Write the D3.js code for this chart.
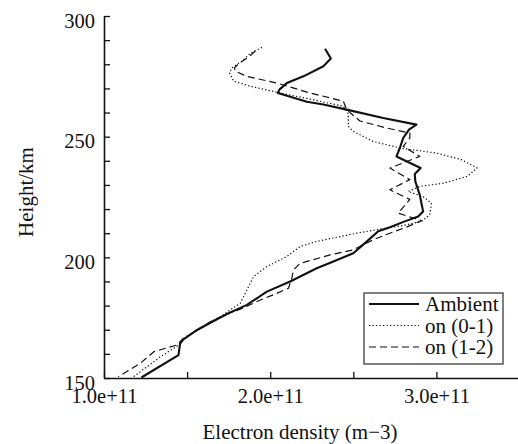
<!DOCTYPE html>
<html>
<head>
<meta charset="utf-8">
<script src="https://cdn.jsdelivr.net/npm/d3@7"></script>
<style>
  body { margin: 0; background: #fff; }
  text { font-family: "Liberation Serif", "Times New Roman", serif; fill: #111; }
</style>
</head>
<body>
<svg id="chart" width="518" height="444"></svg>
<script>
// height (km), electron density (units of 1e11 m^-3)
const ambient = [
  [286.4, 2.33], [282.4, 2.365], [279.2, 2.32], [275, 2.20], [272.2, 2.10],
  [269.5, 2.055], [268.1, 2.046], [264.5, 2.22], [263.3, 2.32], [261.2, 2.46],
  [257.7, 2.68], [255.0, 2.88], [252.9, 2.835], [249.4, 2.80], [245.3, 2.78],
  [241.8, 2.76], [237, 2.905], [234.5, 2.87], [231.5, 2.873], [225.9, 2.90],
  [219, 2.92], [216.9, 2.89], [214.9, 2.81], [212.5, 2.72], [210.8, 2.65],
  [205.9, 2.57], [201.7, 2.50], [198.3, 2.38], [195.5, 2.28], [190, 2.12],
  [185.8, 1.98], [180.3, 1.86], [176.5, 1.74], [172.9, 1.64], [169.9, 1.56],
  [166, 1.478], [164.3, 1.458], [159.5, 1.448], [150.2, 1.225]
];
const on01 = [
  [287, 1.95], [284.5, 1.88], [281.3, 1.83], [278.5, 1.77], [276.4, 1.755],
  [273, 1.78], [270.9, 1.88], [268.4, 2.04], [265.4, 2.25], [262.6, 2.44],
  [259.5, 2.47], [254.3, 2.47], [252.2, 2.50], [248, 2.62], [245.3, 2.78],
  [243.2, 3.00], [240.5, 3.15], [237, 3.245], [233.5, 3.185], [230.7, 3.04],
  [229.4, 2.90], [227.3, 2.83], [225.2, 2.92], [222.4, 2.97], [217.6, 2.96],
  [214.9, 2.91], [213.2, 2.80], [211.2, 2.62], [210, 2.52], [206.6, 2.28],
  [204.5, 2.18], [200.3, 2.10], [196.2, 1.98], [192, 1.90], [186.5, 1.86],
  [181, 1.82], [175.4, 1.70], [173.3, 1.64], [170, 1.57], [167, 1.49],
  [163.7, 1.45], [158.8, 1.34], [150.5, 1.177]
];
const on12 = [
  [285.5, 1.91], [283, 1.87], [280.5, 1.815], [278.5, 1.785], [277.1, 1.79],
  [275, 1.86], [272.2, 2.04], [268.1, 2.24], [264.7, 2.44], [261.2, 2.46],
  [256.5, 2.54], [253.6, 2.70], [251.5, 2.84], [249.4, 2.84], [246, 2.80],
  [241.8, 2.90], [237, 2.72], [232.2, 2.84], [228, 2.72], [224, 2.84],
  [218.3, 2.77], [215.2, 2.91], [212.5, 2.82], [210, 2.72], [207.3, 2.62],
  [203.1, 2.50], [201, 2.36], [197.5, 2.18], [194.8, 2.14], [191.3, 2.13],
  [187.2, 2.11], [184.5, 2.02], [181.7, 1.92], [179, 1.84], [176.5, 1.74],
  [173.3, 1.64], [169.9, 1.56], [166, 1.47], [163.7, 1.44], [160.9, 1.30],
  [156, 1.217], [150.5, 1.086]
];

const seriesNames = ["Ambient", "on (0-1)", "on (1-2)"];
const xTicks = [1.0, 1.5, 2.0, 2.5, 3.0];
const xLabelTicks = [1.0, 2.0, 3.0];
const yTicks = d3.range(150, 301, 10);
const yLabelTicks = [150, 200, 250, 300];

const svg = d3.select("#chart");

const x = d3.scaleLinear().domain([1.0, 3.5]).range([104, 519.5]);
const y = d3.scaleLinear().domain([150, 300]).range([378, 16]);

const styles = [
  { w: 2.1, dash: null },
  { w: 1.2, dash: "1.3,2.2" },
  { w: 1.2, dash: "7,4" }
];

// axes
let xAxis = d3.axisBottom(x)
    .tickValues(xTicks)
    .tickSizeInner(-6)
    .tickSizeOuter(0)
    .tickFormat(d => xLabelTicks.includes(d) ? d3.format(".1e")(d * 1e11) : "");

let gx = svg.append("g")
    .attr("transform", "translate(0," + y(150) + ")")
    .call(xAxis);
gx.select(".domain").attr("stroke", "#111").attr("stroke-width", 1.6);
gx.selectAll(".tick line").attr("stroke", "#111").attr("stroke-width", 1.3);
gx.selectAll(".tick text")
    .attr("y", 25)
    .attr("dy", 0)
    .style("font-size", "20.5px");

let yAxis = d3.axisLeft(y)
    .tickValues(yTicks)
    .tickSizeInner(-6)
    .tickSizeOuter(0)
    .tickFormat(d => yLabelTicks.includes(d) ? d : "");

let gy = svg.append("g")
    .attr("transform", "translate(" + x(1.0) + ",0)")
    .call(yAxis);
gy.select(".domain").attr("stroke", "#111").attr("stroke-width", 1.6);
gy.selectAll(".tick line").attr("stroke", "#111").attr("stroke-width", 1.3);
gy.selectAll(".tick text")
    .attr("x", -9)
    .attr("dy", "0.55em")
    .style("font-size", "20.5px");

svg.selectAll(".tick text").attr("fill", "#111").style("font-family", '"Liberation Serif", serif');

// axis titles
svg.append("text")
    .attr("x", 300)
    .attr("y", 439)
    .attr("text-anchor", "middle")
    .style("font-size", "21px")
    .text("Electron density (m\u22123)");

svg.append("text")
    .attr("transform", "translate(33,192) rotate(-90)")
    .attr("text-anchor", "middle")
    .style("font-size", "21px")
    .text("Height/km");

// profiles
let line = d3.line()
    .x(d => x(d[1]))
    .y(d => y(d[0]));

[ambient, on01, on12].forEach((data, i) => {
    svg.append("path")
        .datum(data)
        .attr("fill", "none")
        .attr("stroke", "#111")
        .attr("stroke-width", styles[i].w)
        .attr("stroke-dasharray", styles[i].dash)
        .attr("stroke-linejoin", "round")
        .attr("d", line);
});

// legend
let legend = svg.append("g");
legend.append("rect")
    .attr("x", 364).attr("y", 293)
    .attr("width", 139).attr("height", 71)
    .attr("fill", "#fff")
    .attr("stroke", "#555")
    .attr("stroke-width", 1.5);

seriesNames.forEach((name, i) => {
    let ry = 304 + i * 21.5;
    legend.append("line")
        .attr("x1", 369).attr("x2", 419)
        .attr("y1", ry).attr("y2", ry)
        .attr("stroke", "#111")
        .attr("stroke-width", styles[i].w)
        .attr("stroke-dasharray", styles[i].dash);
    legend.append("text")
        .attr("x", 425)
        .attr("y", ry + 7)
        .style("font-size", "21px")
        .text(name);
});
</script>
</body>
</html>
